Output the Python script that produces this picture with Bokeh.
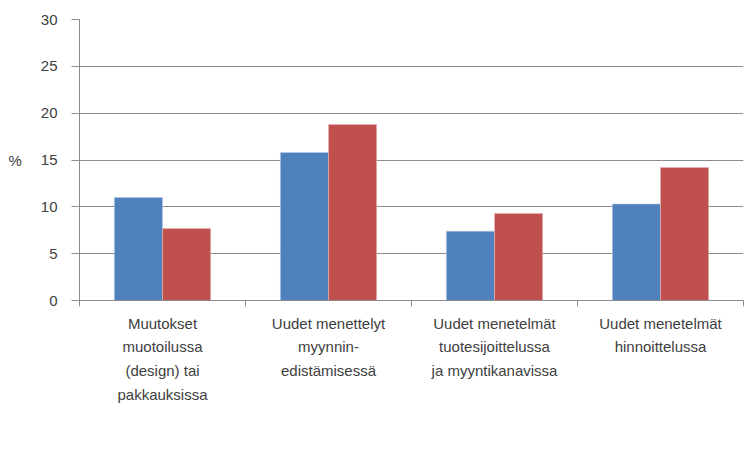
import numpy as np
from bokeh.plotting import figure
from bokeh.models import (ColumnDataSource, FixedTicker, Legend, LegendItem, Range1d)
from bokeh.embed import file_html
from bokeh.resources import INLINE

categories = [
    "Muutokset\nmuotoilussa\n(design) tai\npakkauksissa",
    "Uudet menettelyt\nmyynnin-\nedistämisessä",
    "Uudet menetelmät\ntuotesijoittelussa\nja myyntikanavissa",
    "Uudet menetelmät\nhinnoittelussa",
]
teollisuus = [11.0, 15.8, 7.4, 10.3]
palvelut = [7.7, 18.8, 9.3, 14.2]
y_ticks = [0, 5, 10, 15, 20, 25, 30]
series_names = ["Teollisuus", "Palvelut"]
series_colors = ["#4F81BD", "#C0504D"]

FONT = "Liberation Sans"
TXT = "#404040"
GRID = "#8C8C8C"

centers = np.arange(len(categories)) + 0.5
bw = 0.29

p = figure(frame_width=664, frame_height=281, output_backend="svg", toolbar_location=None,
           x_range=Range1d(0, len(categories)), y_range=Range1d(0, 30),
           min_border_left=79, min_border_right=2, min_border_top=19, min_border_bottom=0)
p.outline_line_color = None
p.background_fill_color = "white"
p.border_fill_color = "white"

src_t = ColumnDataSource(dict(x=centers - bw / 2, top=teollisuus))
src_p = ColumnDataSource(dict(x=centers + bw / 2, top=palvelut))
r1 = p.vbar(x="x", top="top", width=bw, bottom=0, source=src_t,
            fill_color=series_colors[0], line_color="#B9CDE5", line_width=0.6)
r2 = p.vbar(x="x", top="top", width=bw, bottom=0, source=src_p,
            fill_color=series_colors[1], line_color="#E6B9B8", line_width=0.6)

# x axis
xa = p.xaxis[0]
xa.ticker = FixedTicker(ticks=list(centers), minor_ticks=list(range(len(categories) + 1)))
xa.major_label_overrides = {float(c): lab for c, lab in zip(centers, categories)}
xa.major_tick_line_color = None
xa.minor_tick_line_color = GRID
xa.minor_tick_in = 0
xa.minor_tick_out = 6
xa.axis_line_color = GRID
xa.major_label_text_font = FONT
xa.major_label_text_font_size = "15px"
xa.major_label_text_color = TXT
xa.major_label_text_line_height = 1.4
xa.major_label_standoff = 8

# y axis
ya = p.yaxis[0]
ya.ticker = FixedTicker(ticks=y_ticks)
ya.axis_line_color = GRID
ya.major_tick_line_color = GRID
ya.major_tick_in = 0
ya.major_tick_out = 8
ya.minor_tick_line_color = None
ya.major_label_text_font = FONT
ya.major_label_text_font_size = "15px"
ya.major_label_text_color = TXT
ya.major_label_standoff = 14
ya.axis_label = "%"
ya.axis_label_orientation = "horizontal"
ya.axis_label_text_font = FONT
ya.axis_label_text_font_style = "normal"
ya.axis_label_text_font_size = "15px"
ya.axis_label_text_color = TXT
ya.axis_label_standoff = 16

p.xgrid.grid_line_color = None
p.ygrid.ticker = FixedTicker(ticks=y_ticks)
p.ygrid.grid_line_color = GRID
p.ygrid.grid_line_width = 1

legend = Legend(items=[LegendItem(label=series_names[0], renderers=[r1]),
                       LegendItem(label=series_names[1], renderers=[r2])],
                orientation="horizontal", location=(167, 0),
                label_text_font=FONT, label_text_font_size="13px",
                label_text_color=TXT, glyph_width=9, glyph_height=9,
                label_standoff=4, spacing=12, border_line_color=None,
                background_fill_alpha=0,
                padding=0, margin=0, label_height=12)
p.add_layout(legend, "below")

open("out.html", "w").write(file_html(p, INLINE))
